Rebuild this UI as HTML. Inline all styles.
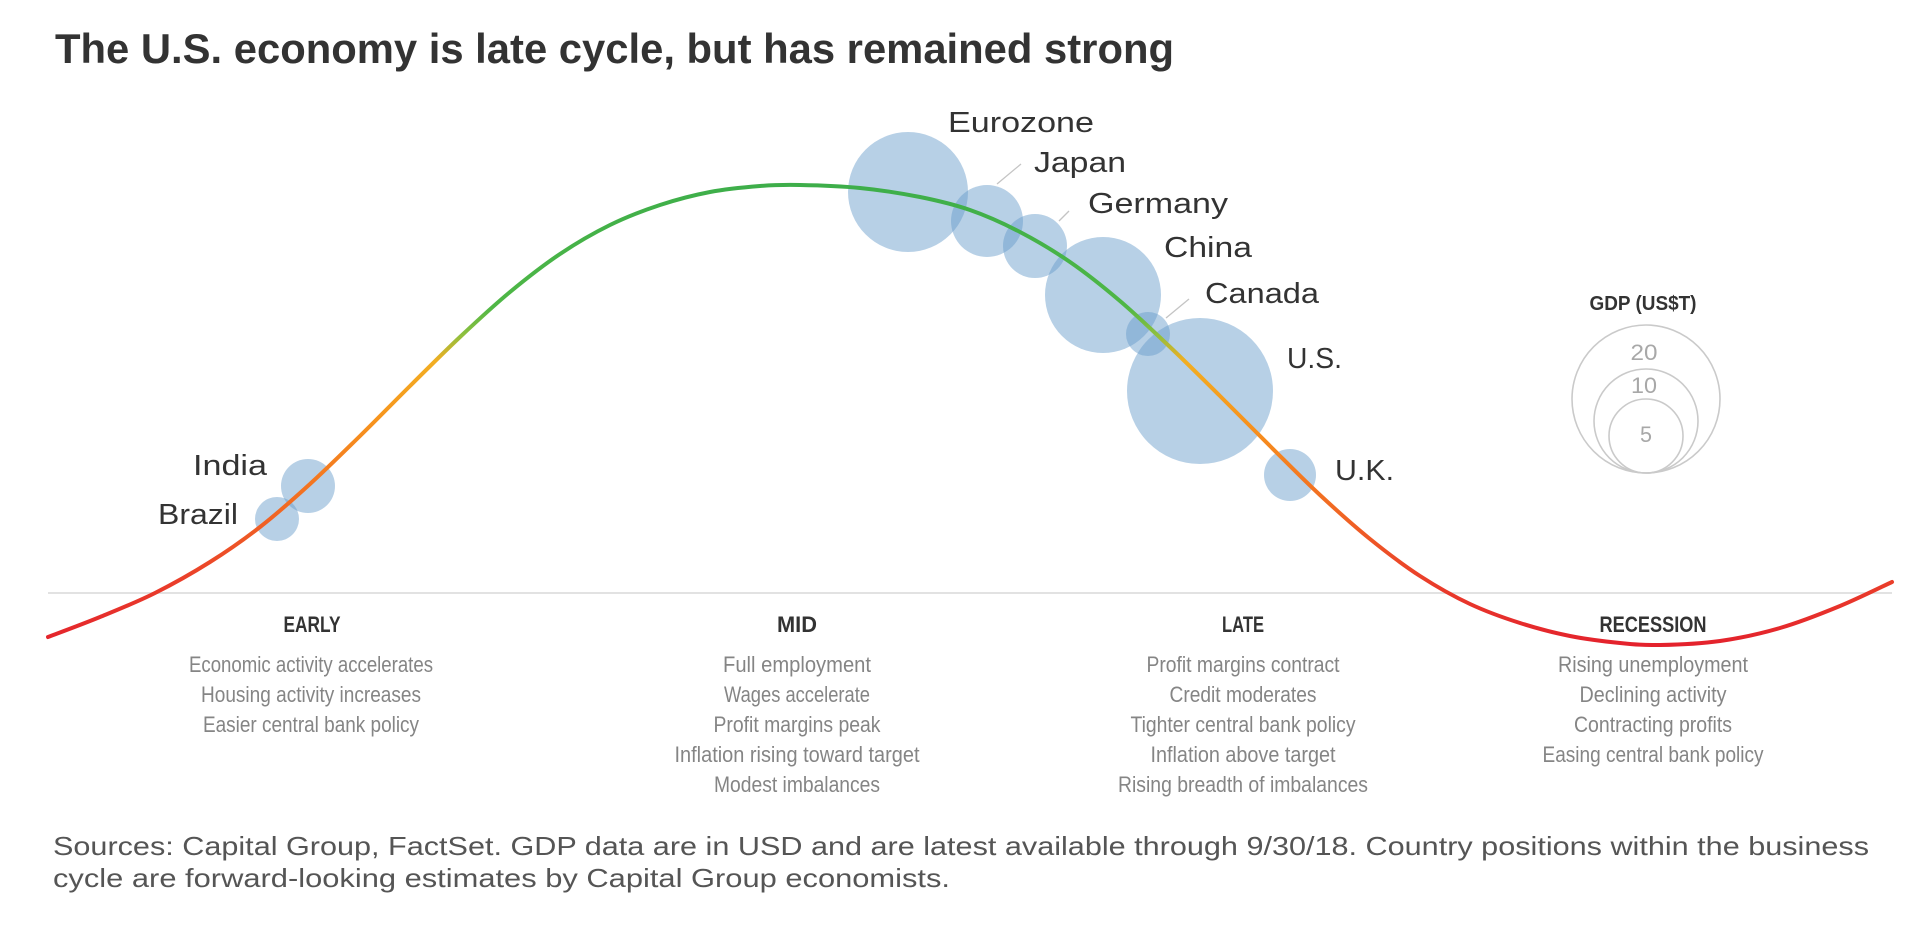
<!DOCTYPE html>
<html>
<head>
<meta charset="utf-8">
<style>
html,body{margin:0;padding:0;background:#fff;width:1918px;height:926px;overflow:hidden}
svg{display:block}
</style>
</head>
<body>
<svg xmlns="http://www.w3.org/2000/svg" width="1918" height="926" viewBox="0 0 1918 926" font-family="'Liberation Sans', sans-serif">
  <defs>
    <linearGradient id="cg" gradientUnits="userSpaceOnUse" x1="0" y1="180" x2="0" y2="650">
      <stop offset="0" stop-color="#3dae4a"/>
      <stop offset="0.27" stop-color="#4fb746"/>
      <stop offset="0.33" stop-color="#8fc03e"/>
      <stop offset="0.385" stop-color="#f2ae22"/>
      <stop offset="0.51" stop-color="#f7941d"/>
      <stop offset="0.68" stop-color="#f26e22"/>
      <stop offset="0.85" stop-color="#ea3f2a"/>
      <stop offset="1" stop-color="#e3202d"/>
    </linearGradient>
  </defs>

  <!-- Title -->
  <text x="55" y="63" font-size="42" font-weight="bold" fill="#333" textLength="1119" lengthAdjust="spacingAndGlyphs">The U.S. economy is late cycle, but has remained strong</text>

  <!-- baseline -->
  <line x1="48" y1="593" x2="1892" y2="593" stroke="#e2e2e2" stroke-width="2"/>

  <!-- bubbles -->
  <g fill="#669bca" fill-opacity="0.47">
    <circle cx="908" cy="192" r="60"/>
    <circle cx="987" cy="221" r="36"/>
    <circle cx="1035" cy="246" r="32"/>
    <circle cx="1103" cy="295" r="58"/>
    <circle cx="1148" cy="334" r="22"/>
    <circle cx="1200" cy="391" r="73"/>
    <circle cx="1290" cy="475" r="26"/>
    <circle cx="308" cy="486" r="27"/>
    <circle cx="277" cy="519" r="22"/>
  </g>

  <!-- curve -->
  <path id="curve" fill="none" stroke="url(#cg)" stroke-width="4" stroke-linecap="round" stroke-linejoin="round"
    d="M48,637 L100,617 L155,593 L210,562 L260,527 L310,484 L360,436 L410,386 L460,337 L510,292 L560,254 L610,225 L660,205 L710,192 L760,186 L800,185 L860,188 L920,197 L970,210 L1020,232 L1070,262 L1120,301 L1170,347 L1220,396 L1270,446 L1320,495 L1370,539 L1420,576 L1470,604 L1520,623 L1570,636 L1620,643 L1660,645 L1720,641 L1780,628 L1840,606 L1892,582"/>

  <!-- leader lines -->
  <g stroke="#c4c4c4" stroke-width="1.3">
    <line x1="1021" y1="164" x2="997" y2="184"/>
    <line x1="1069" y1="211" x2="1059" y2="221"/>
    <line x1="1189" y1="299" x2="1166" y2="318"/>
  </g>

  <!-- country labels -->
  <g font-size="29" fill="#333">
    <text x="948" y="132" textLength="146" lengthAdjust="spacingAndGlyphs">Eurozone</text>
    <text x="1034" y="172" textLength="92" lengthAdjust="spacingAndGlyphs">Japan</text>
    <text x="1088" y="213" textLength="140" lengthAdjust="spacingAndGlyphs">Germany</text>
    <text x="1164" y="257" textLength="88" lengthAdjust="spacingAndGlyphs">China</text>
    <text x="1205" y="303" textLength="114" lengthAdjust="spacingAndGlyphs">Canada</text>
    <text x="1287" y="368" textLength="55" lengthAdjust="spacingAndGlyphs">U.S.</text>
    <text x="1335" y="480" textLength="59" lengthAdjust="spacingAndGlyphs">U.K.</text>
    <text x="193" y="475" textLength="74" lengthAdjust="spacingAndGlyphs">India</text>
    <text x="158" y="524" textLength="80" lengthAdjust="spacingAndGlyphs">Brazil</text>
  </g>

  <!-- legend -->
  <text x="1643" y="310" font-size="20" font-weight="bold" fill="#333" text-anchor="middle" textLength="107" lengthAdjust="spacingAndGlyphs">GDP (US$T)</text>
  <g fill="none" stroke="#cacaca" stroke-width="1.6">
    <circle cx="1646" cy="399" r="74"/>
    <circle cx="1646" cy="421" r="52"/>
    <circle cx="1646" cy="436" r="37"/>
  </g>
  <g font-size="22" fill="#a8a8a8" text-anchor="middle">
    <text x="1644" y="360" textLength="27" lengthAdjust="spacingAndGlyphs">20</text>
    <text x="1644" y="393" textLength="26" lengthAdjust="spacingAndGlyphs">10</text>
    <text x="1646" y="442" textLength="12" lengthAdjust="spacingAndGlyphs">5</text>
  </g>

  <!-- phase headers -->
  <g font-size="22" font-weight="bold" fill="#333" text-anchor="middle">
    <text x="312" y="632" textLength="57" lengthAdjust="spacingAndGlyphs">EARLY</text>
    <text x="797" y="632" textLength="40" lengthAdjust="spacingAndGlyphs">MID</text>
    <text x="1243" y="632" textLength="42" lengthAdjust="spacingAndGlyphs">LATE</text>
    <text x="1653" y="632" textLength="107" lengthAdjust="spacingAndGlyphs">RECESSION</text>
  </g>

  <!-- phase descriptions -->
  <g font-size="22" fill="#858585" text-anchor="middle">
    <text x="311" y="672" textLength="244" lengthAdjust="spacingAndGlyphs">Economic activity accelerates</text>
    <text x="311" y="702" textLength="220" lengthAdjust="spacingAndGlyphs">Housing activity increases</text>
    <text x="311" y="732" textLength="216" lengthAdjust="spacingAndGlyphs">Easier central bank policy</text>

    <text x="797" y="672" textLength="148" lengthAdjust="spacingAndGlyphs">Full employment</text>
    <text x="797" y="702" textLength="146" lengthAdjust="spacingAndGlyphs">Wages accelerate</text>
    <text x="797" y="732" textLength="167" lengthAdjust="spacingAndGlyphs">Profit margins peak</text>
    <text x="797" y="762" textLength="245" lengthAdjust="spacingAndGlyphs">Inflation rising toward target</text>
    <text x="797" y="792" textLength="166" lengthAdjust="spacingAndGlyphs">Modest imbalances</text>

    <text x="1243" y="672" textLength="193" lengthAdjust="spacingAndGlyphs">Profit margins contract</text>
    <text x="1243" y="702" textLength="147" lengthAdjust="spacingAndGlyphs">Credit moderates</text>
    <text x="1243" y="732" textLength="225" lengthAdjust="spacingAndGlyphs">Tighter central bank policy</text>
    <text x="1243" y="762" textLength="185" lengthAdjust="spacingAndGlyphs">Inflation above target</text>
    <text x="1243" y="792" textLength="250" lengthAdjust="spacingAndGlyphs">Rising breadth of imbalances</text>

    <text x="1653" y="672" textLength="190" lengthAdjust="spacingAndGlyphs">Rising unemployment</text>
    <text x="1653" y="702" textLength="147" lengthAdjust="spacingAndGlyphs">Declining activity</text>
    <text x="1653" y="732" textLength="158" lengthAdjust="spacingAndGlyphs">Contracting profits</text>
    <text x="1653" y="762" textLength="221" lengthAdjust="spacingAndGlyphs">Easing central bank policy</text>
  </g>

  <!-- sources -->
  <g font-size="26" fill="#555">
    <text x="53" y="855" textLength="1816" lengthAdjust="spacingAndGlyphs">Sources: Capital Group, FactSet. GDP data are in USD and are latest available through 9/30/18. Country positions within the business</text>
    <text x="53" y="887" textLength="897" lengthAdjust="spacingAndGlyphs">cycle are forward-looking estimates by Capital Group economists.</text>
  </g>
</svg>
<script>
(function(){
  try{
    var pts=[[48,637],[100,617],[155,593],[210,562],[260,527],[310,484],[360,436],[410,386],[460,337],[510,292],[560,254],[610,225],[660,205],[710,192],[760,186],[800,185],[860,188],[920,197],[970,210],[1020,232],[1070,262],[1120,301],[1170,347],[1220,396],[1270,446],[1320,495],[1370,539],[1420,576],[1470,604],[1520,623],[1570,636],[1620,643],[1660,645],[1720,641],[1780,628],[1840,606],[1892,582]];
    var d="M"+pts[0][0]+","+pts[0][1];
    for(var i=0;i<pts.length-1;i++){
      var p0=pts[i-1]||pts[i],p1=pts[i],p2=pts[i+1],p3=pts[i+2]||pts[i+1];
      var c1x=p1[0]+(p2[0]-p0[0])/6,c1y=p1[1]+(p2[1]-p0[1])/6;
      var c2x=p2[0]-(p3[0]-p1[0])/6,c2y=p2[1]-(p3[1]-p1[1])/6;
      d+=" C"+c1x.toFixed(1)+","+c1y.toFixed(1)+" "+c2x.toFixed(1)+","+c2y.toFixed(1)+" "+p2[0]+","+p2[1];
    }
    document.getElementById("curve").setAttribute("d",d);
  }catch(e){}
})();
</script>
</body>
</html>
